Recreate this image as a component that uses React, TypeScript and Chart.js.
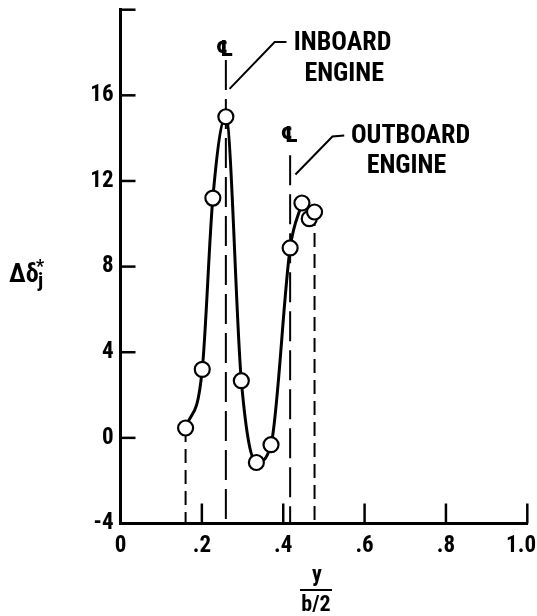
import { useEffect, useRef } from "react";
import { Chart, registerables } from "chart.js";

Chart.register(...registerables);

// ---- data ----
const xTickValues = [0, 0.2, 0.4, 0.6, 0.8, 1.0];
const xTickLabels = ["0", ".2", ".4", ".6", ".8", "1.0"];
const yTickValues = [-4, 0, 4, 8, 12, 16, 20];
const yTickLabels = ["-4", "0", "4", "8", "12", "16", ""];

// faired curve through the measured points
const curveX = [0.16, 0.201, 0.227, 0.259, 0.297, 0.334, 0.37, 0.417, 0.446];
const curveY = [0.46, 3.2, 11.2, 15.0, 2.67, -1.15, -0.32, 8.87, 10.97];
// extra measured points not on the faired curve
const extraX = [0.464, 0.477];
const extraY = [10.24, 10.55];

// vertical dashed drop lines from points to the axis
const dropX = [0.16, 0.477];
const dropTop = [0.46, 10.55];
// engine centerlines
const engineX = [0.259, 0.417];
const engineTop = [17.65, 13.2];
const engineNames = [["INBOARD", "ENGINE"], ["OUTBOARD", "ENGINE"]];

const FONT = '"Roboto Condensed", "Open Sans Condensed", "DejaVu Sans Condensed", sans-serif';
const TICK_FONT = { family: FONT, size: 23, weight: "bold" };

export default function App() {
  const ref = useRef<HTMLCanvasElement | null>(null);

  useEffect(() => {
    const canvas = ref.current;
    if (!canvas) return;

    const pts = [
      ...curveX.map((x, i) => ({ x, y: curveY[i] })),
      ...extraX.map((x, i) => ({ x, y: extraY[i] })),
    ];

    const datasets: any[] = [
      {
        type: "scatter",
        data: pts,
        pointStyle: "circle",
        pointRadius: 7.5,
        pointHoverRadius: 7.5,
        pointBorderWidth: 2.2,
        pointBackgroundColor: "#ffffff",
        pointBorderColor: "#000000",
        showLine: false,
        order: 0,
      },
      {
        type: "line",
        data: curveX.map((x, i) => ({ x, y: curveY[i] })),
        borderColor: "#000000",
        borderWidth: 3,
        pointRadius: 0,
        cubicInterpolationMode: "monotone",
        fill: false,
        order: 1,
      },
    ];
    dropX.forEach((x, i) => {
      datasets.push({
        type: "line",
        data: [{ x, y: dropTop[i] }, { x, y: -4 }],
        borderColor: "#000000",
        borderWidth: 2,
        borderDash: [14, 7],
        pointRadius: 0,
        fill: false,
        order: 2,
      });
    });
    engineX.forEach((x, i) => {
      datasets.push({
        type: "line",
        data: [{ x, y: engineTop[i] }, { x, y: -4 }],
        borderColor: "#000000",
        borderWidth: 2,
        borderDash: [30, 9],
        pointRadius: 0,
        fill: false,
        order: 2,
      });
    });

    const decor = {
      id: "decor",
      afterDatasetsDraw(chart: any) {
        const ctx = chart.ctx as CanvasRenderingContext2D;
        const xs = chart.scales.x;
        const ys = chart.scales.y;
        const area = chart.chartArea;
        ctx.save();
        ctx.strokeStyle = "#000";
        ctx.fillStyle = "#000";
        ctx.lineCap = "butt";
        // inward ticks
        ctx.lineWidth = 2.5;
        xTickValues.forEach((v) => {
          if (v === 0) return;
          const px = xs.getPixelForValue(v);
          ctx.beginPath();
          ctx.moveTo(px, area.bottom);
          ctx.lineTo(px, area.bottom - 20);
          ctx.stroke();
        });
        yTickValues.forEach((v) => {
          if (v === -4) return;
          const py = ys.getPixelForValue(v);
          ctx.beginPath();
          ctx.moveTo(area.left, py);
          ctx.lineTo(area.left + 15, py);
          ctx.stroke();
        });

        // x tick labels, kept inside the canvas
        ctx.font = `bold ${TICK_FONT.size}px ${FONT}`;
        ctx.textAlign = "center";
        ctx.textBaseline = "middle";
        xTickValues.forEach((v, i) => {
          const w = ctx.measureText(xTickLabels[i]).width;
          let px = xs.getPixelForValue(v);
          px = Math.min(px, chart.width - w / 2 - 1);
          ctx.fillText(xTickLabels[i], px, area.bottom + 23);
        });

        const P = (x: number, y: number) => [xs.getPixelForValue(x), ys.getPixelForValue(y)];

        // centerline symbols
        ctx.font = `bold 22px "DejaVu Sans Condensed", sans-serif`;
        const cl1 = P(0.256, 18.1);
        ctx.fillText("\u2104", cl1[0], cl1[1]);
        const cl2 = P(0.415, 14.07);
        ctx.fillText("\u2104", cl2[0], cl2[1]);

        // engine labels
        ctx.font = `bold 26px ${FONT}`;
        let p = P(0.546, 18.4);
        ctx.fillText(engineNames[0][0], p[0], p[1]);
        p = P(0.55, 16.95);
        ctx.fillText(engineNames[0][1], p[0], p[1]);
        p = P(0.713, 14.07);
        ctx.fillText(engineNames[1][0], p[0], p[1]);
        p = P(0.703, 12.67);
        ctx.fillText(engineNames[1][1], p[0], p[1]);

        // leader lines
        ctx.lineWidth = 2;
        const leader = (pp: number[][]) => {
          ctx.beginPath();
          pp.forEach((q, i) => {
            const [a, b] = P(q[0], q[1]);
            if (i === 0) ctx.moveTo(a, b);
            else ctx.lineTo(a, b);
          });
          ctx.stroke();
        };
        leader([[0.268, 16.3], [0.379, 18.49], [0.408, 18.49]]);
        leader([[0.43, 12.3], [0.521, 14.08], [0.55, 14.12]]);

        // y-axis title  Δδ*_j
        ctx.textAlign = "left";
        ctx.textBaseline = "alphabetic";
        ctx.font = `bold 26px ${FONT}`;
        ctx.fillText("\u0394\u03b4", 9, 282);
        ctx.font = `bold 18px ${FONT}`;
        ctx.fillText("*", 36, 272);
        ctx.font = `bold 21px ${FONT}`;
        ctx.fillText("j", 38, 287);

        // x-axis title  y / (b/2)
        ctx.textAlign = "center";
        ctx.font = `bold 22px ${FONT}`;
        ctx.fillText("y", 317, 581);
        ctx.lineWidth = 2;
        ctx.beginPath();
        ctx.moveTo(300, 590);
        ctx.lineTo(332, 590);
        ctx.stroke();
        ctx.fillText("b/2", 316, 611);
        ctx.restore();
      },
    };

    const chart = new Chart(canvas, {
      type: "scatter",
      data: { datasets },
      plugins: [decor],
      options: {
        animation: false,
        responsive: false,
        events: [],
        layout: { padding: { top: 7.5, right: 8, left: 0, bottom: 0 } },
        plugins: { legend: { display: false }, tooltip: { enabled: false } },
        scales: {
          x: {
            type: "linear",
            min: 0,
            max: 1,
            afterFit(s: any) {
              s.height = 92.5;
              s.paddingLeft = 0;
              s.paddingRight = 0;
            },
            afterBuildTicks(s: any) {
              s.ticks = xTickValues.map((v) => ({ value: v }));
            },
            ticks: {
              display: false,
              callback: (_v: any, i: number) => xTickLabels[i],
            },
            grid: { display: false, drawTicks: false },
            border: { display: true, color: "#000", width: 3 },
          },
          y: {
            type: "linear",
            min: -4,
            max: 20,
            afterFit(s: any) {
              s.width = 120.5;
              s.paddingTop = 0;
              s.paddingBottom = 0;
            },
            afterBuildTicks(s: any) {
              s.ticks = yTickValues.map((v) => ({ value: v }));
            },
            ticks: {
              callback: (_v: any, i: number) => yTickLabels[i],
              color: "#000",
              padding: 7,
              font: TICK_FONT,
            },
            grid: { display: false, drawTicks: false },
            border: { display: true, color: "#000", width: 3 },
          },
        },
      } as any,
    });
    return () => chart.destroy();
  }, []);

  return (
    <div style={{ position: "absolute", left: 0, top: 0, width: 537, height: 616, background: "#fff" }}>
      <canvas ref={ref} width={537} height={616} style={{ width: 537, height: 616, display: "block" }} />
    </div>
  );
}
